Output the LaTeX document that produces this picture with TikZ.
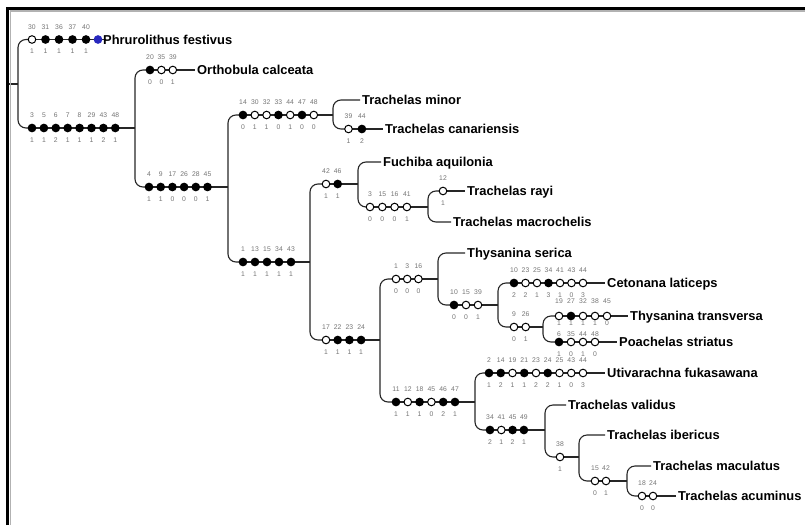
\documentclass[tikz,border=0pt]{standalone}
\usepackage{fontspec}
\setmainfont{Liberation Sans}
\pgfdeclarelayer{bg}
\pgfsetlayers{bg,main}
\colorlet{O}{white}
\colorlet{X}{black}
\definecolor{pblue}{RGB}{40,40,190}
\tikzset{
 ch/.style={circle,draw=black,line width=1pt,minimum size=7.6pt,inner sep=0pt},
 num/.style={font=\fontsize{6.8}{7}\selectfont,text=black!55,inner sep=0pt},
 taxon/.style={font=\bfseries\fontsize{12.9}{14}\selectfont,anchor=west,text height=9.2pt,text depth=0pt,inner ysep=0pt,inner xsep=2pt},
 br/.style={line width=1.1pt,draw=black!85,rounded corners=8pt},
 frameline/.style={line width=2.6pt,draw=black},
 frameshade/.style={line width=1.2pt,draw=black!30},
}
\def\toff{12.5}\def\boff{12}
\newcommand\charrow[5]{%
 \foreach \vt/\vb/\vf [count=\vi] in {#5}{%
  \node[ch,fill=\vf] (#1\vi) at ({#2+(\vi-1)*#4},#3) {};
  \node[num] (#1t\vi) at ({#2+(\vi-1)*#4},{#3-\toff}) {\vt};
  \node[num] (#1b\vi) at ({#2+(\vi-1)*#4},{#3+\boff}) {\vb};
 }}
\begin{document}
\begin{tikzpicture}[x=1pt,y=-1pt]
\useasboundingbox (0,0) rectangle (805,525);
% frame
\draw[frameshade] (10.2,525) -- (10.2,10.9) -- (805,10.9);
\draw[frameline] (7.3,525) -- (7.3,8.6) -- (805,8.6);

% character rows and taxa
\charrow{P}{32}{39.5}{13.5}{30/1/O,31/1/X,36/1/X,37/1/X,40/1/X}
\node[ch,fill=pblue,draw=pblue] (pdot) at (98,39.5) {};
\node[taxon] (lphr) at (101,39.5) {Phrurolithus festivus};
\charrow{A}{32}{128}{11.9}{3/1/X,5/1/X,6/2/X,7/1/X,8/1/X,29/1/X,43/2/X,48/1/X}
\charrow{Or}{150}{70}{11.4}{20/0/X,35/0/O,39/1/O}
\node[taxon] (lort) at (195,70) {Orthobula calceata};
\charrow{B}{149}{187}{11.7}{4/1/X,9/1/X,17/0/X,26/0/X,28/0/X,45/1/X}
\charrow{C}{243}{115}{11.8}{14/0/X,30/1/O,32/1/O,33/0/X,44/1/O,47/0/X,48/0/O}
\node[taxon] (lmin) at (360,100) {Trachelas minor};
\charrow{Ca}{348.5}{129}{13.4}{39/1/O,44/2/X}
\node[taxon] (lcan) at (383,129) {Trachelas canariensis};
\charrow{D}{243}{262}{12}{1/1/X,13/1/X,15/1/X,34/1/X,43/1/X}
\charrow{E}{326}{184}{11.7}{42/1/O,46/1/X}
\node[taxon] (lfuc) at (381,162) {Fuchiba aquilonia};
\charrow{G}{370}{207}{12.3}{3/0/O,15/0/O,16/0/O,41/1/O}
\charrow{R}{443}{191}{0}{12/1/O}
\node[taxon] (lray) at (465,191) {Trachelas rayi};
\node[taxon] (lmac) at (451,222) {Trachelas macrochelis};
\charrow{F}{326}{340}{11.7}{17/1/O,22/1/X,23/1/X,24/1/X}
\charrow{H}{396}{279}{11.2}{1/0/O,3/0/O,16/0/O}
\node[taxon] (lser) at (465,253) {Thysanina serica};
\charrow{J}{454}{305}{12}{10/0/X,15/0/O,39/1/O}
\charrow{Ce}{514}{283}{11.5}{10/2/X,23/2/O,25/1/O,34/3/X,41/1/O,43/0/O,44/3/O}
\node[taxon] (lcet) at (605,283) {Cetonana laticeps};
\charrow{K}{514}{327}{11.7}{9/0/O,26/1/O}
\def\toff{14.5}\def\boff{7.5}
\charrow{Tt}{559}{316}{12}{19/1/O,27/1/X,32/1/O,38/1/O,45/0/O}
\def\toff{8}\def\boff{12.5}
\charrow{Po}{559}{342}{12}{6/1/X,35/0/O,44/1/O,48/0/O}
\def\toff{12.5}\def\boff{12}
\node[taxon] (ltra) at (628,316) {Thysanina transversa};
\node[taxon] (lpoa) at (617,342) {Poachelas striatus};
\charrow{I}{396}{402}{11.8}{11/1/X,12/1/O,18/1/X,45/0/O,46/2/X,47/1/X}
\charrow{U}{489}{373}{11.75}{2/1/X,14/2/X,19/1/O,21/1/X,23/2/O,24/2/X,25/1/O,43/0/O,44/3/O}
\node[taxon] (luti) at (605,373) {Utivarachna fukasawana};
\charrow{L}{490}{430}{11.3}{34/2/X,41/1/O,45/2/X,49/1/X}
\node[taxon] (lval) at (566,405) {Trachelas validus};
\charrow{M}{560}{457}{0}{38/1/O}
\node[taxon] (libe) at (605,435) {Trachelas ibericus};
\charrow{N}{595}{481}{11}{15/0/O,42/1/O}
\node[taxon] (lmcu) at (651,466) {Trachelas maculatus};
\charrow{Oa}{642}{496}{11}{18/0/O,24/0/O}
\node[taxon] (lacu) at (676,496) {Trachelas acuminus};

% junctions
\coordinate (rootin) at (8.5,84);
\coordinate (jroot) at (18,84);
\coordinate (jA) at (135,0 |- A1);
\coordinate (jB) at (228,0 |- B1);
\coordinate (jC) at (333,0 |- C1);
\coordinate (jD) at (310,0 |- D1);
\coordinate (jE) at (358,0 |- E1);
\coordinate (jG) at (428,0 |- G1);
\coordinate (jF) at (380,0 |- F1);
\coordinate (jH) at (438,0 |- H1);
\coordinate (jJ) at (498,0 |- J1);
\coordinate (jK) at (543,0 |- K1);
\coordinate (jI) at (475,0 |- I1);
\coordinate (jL) at (545,0 |- L1);
\coordinate (jM) at (579,0 |- M1);
\coordinate (jN) at (627,0 |- N1);

\begin{pgfonlayer}{bg}
\draw[br] (rootin) -- (jroot);
\draw[br] (P1.center) -- (jroot |- P1) -- (jroot |- A1) -- (A1.center);
\draw[br] (P1.center) -- (pdot.center) -- (lphr.west);
\draw[br] (A1.center) -- (jA);
\draw[br] (Or1.center) -- (jA |- Or1) -- (jA |- B1) -- (B1.center);
\draw[br] (Or1.center) -- (lort.west);
\draw[br] (B1.center) -- (jB);
\draw[br] (C1.center) -- (jB |- C1) -- (jB |- D1) -- (D1.center);
\draw[br] (C1.center) -- (jC);
\draw[br] (lmin.west) -- (jC |- lmin.west) -- (jC |- Ca1) -- (Ca1.center);
\draw[br] (Ca1.center) -- (lcan.west);
\draw[br] (D1.center) -- (jD);
\draw[br] (E1.center) -- (jD |- E1) -- (jD |- F1) -- (F1.center);
\draw[br] (E1.center) -- (jE);
\draw[br] (lfuc.west) -- (jE |- lfuc.west) -- (jE |- G1) -- (G1.center);
\draw[br] (G1.center) -- (jG);
\draw[br] (R1.center) -- (jG |- R1) -- (jG |- lmac.west) -- (lmac.west);
\draw[br] (R1.center) -- (lray.west);
\draw[br] (F1.center) -- (jF);
\draw[br] (H1.center) -- (jF |- H1) -- (jF |- I1) -- (I1.center);
\draw[br] (H1.center) -- (jH);
\draw[br] (lser.west) -- (jH |- lser.west) -- (jH |- J1) -- (J1.center);
\draw[br] (J1.center) -- (jJ);
\draw[br] (Ce1.center) -- (jJ |- Ce1) -- (jJ |- K1) -- (K1.center);
\draw[br] (Ce1.center) -- (lcet.west);
\draw[br] (K1.center) -- (jK);
\draw[br] (Tt1.center) -- (jK |- Tt1) -- (jK |- Po1) -- (Po1.center);
\draw[br] (Tt1.center) -- (ltra.west);
\draw[br] (Po1.center) -- (lpoa.west);
\draw[br] (I1.center) -- (jI);
\draw[br] (U1.center) -- (jI |- U1) -- (jI |- L1) -- (L1.center);
\draw[br] (U1.center) -- (luti.west);
\draw[br] (L1.center) -- (jL);
\draw[br] (lval.west) -- (jL |- lval.west) -- (jL |- M1) -- (M1.center);
\draw[br] (M1.center) -- (jM);
\draw[br] (libe.west) -- (jM |- libe.west) -- (jM |- N1) -- (N1.center);
\draw[br] (N1.center) -- (jN);
\draw[br] (lmcu.west) -- (jN |- lmcu.west) -- (jN |- Oa1) -- (Oa1.center);
\draw[br] (Oa1.center) -- (lacu.west);
\end{pgfonlayer}
\end{tikzpicture}
\end{document}
